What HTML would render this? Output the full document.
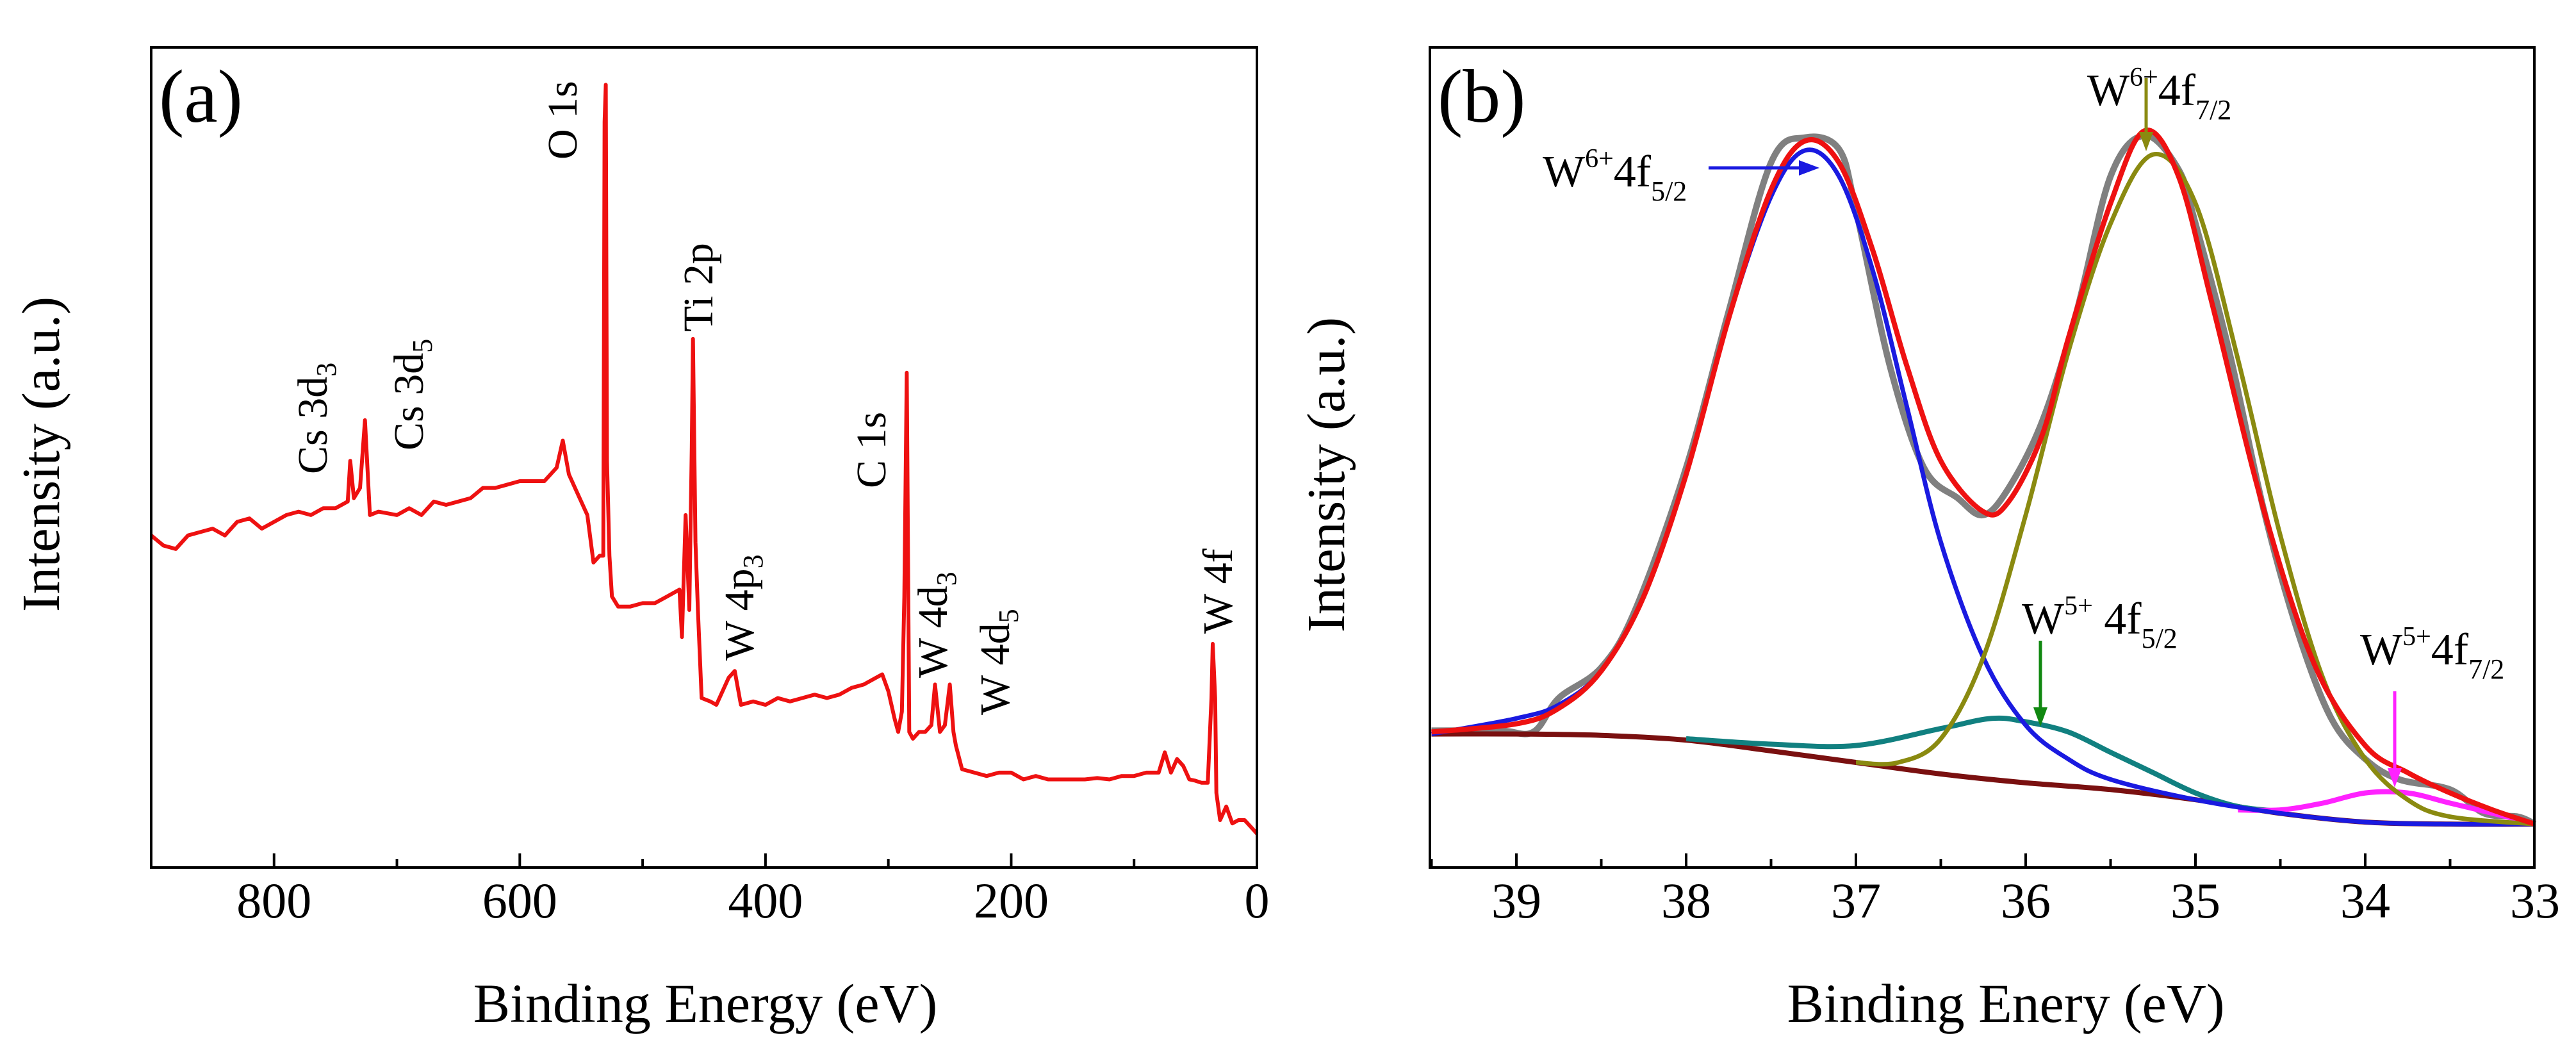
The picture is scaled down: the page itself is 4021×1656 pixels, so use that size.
<!DOCTYPE html>
<html><head><meta charset="utf-8"><style>
html,body{margin:0;padding:0;background:#fff}
svg{display:block;font-family:"Liberation Serif",serif}
</style></head><body>
<svg id="chart" width="4021" height="1656" viewBox="0 0 4021 1656" xmlns="http://www.w3.org/2000/svg">
<rect width="4021" height="1656" fill="#fff"/>
<g id="pa"></g>
<g id="pb"></g>
</svg>
<script>
// ---------- Panel (a) survey data: [binding energy eV, intensity]
const surveyE=[900,890,880,870,860,850,840,830,820,810,800,790,780,770,760,750,745,740,738,735,730,726,722,715,700,690,680,670,660,650,640,630,620,610,600,590,580,570,565,560,550,545,540,535,532,531,530,529,527,525,520,510,500,490,480,470,468,465,462,460,459,457,455,452,445,440,435,430,425,420,410,400,390,380,370,360,350,340,330,320,310,305,300,295,292,289,287,285,283,280,275,270,265,262,258,254,250,247,245,240,230,220,210,200,190,180,170,160,150,140,130,120,110,100,90,80,75,70,65,60,55,50,45,40,37,36,34,33,30,25,20,15,10,5,0];
const surveyI=[490,475,470,490,495,500,490,510,515,500,510,520,525,520,530,530,535,540,600,545,560,660,520,525,520,530,520,540,535,540,545,560,560,565,570,570,570,590,630,580,540,520,450,460,460,1100,1155,600,460,400,385,385,390,390,400,410,340,520,380,620,780,480,380,250,245,240,260,280,290,240,245,240,250,245,250,255,250,255,265,270,280,285,260,220,200,230,400,730,200,190,200,200,210,270,200,210,270,200,180,145,140,135,140,140,130,135,130,130,130,130,132,130,135,135,140,140,170,140,160,150,130,128,125,125,250,330,250,110,70,90,65,70,70,60,50];
// ---------- Panel (b) W 4f data: energies and curves
const bgE=[39.5,39,38.5,38,37.5,37,36.5,36,35.5,35,34.5,34,33.5,33];
const bgI=[197,197,195,188,172,155,138,125,115,100,80,67,64,64];
const blueE=[39.5,39,38.75,38.5,38.25,38,37.75,37.5,37.3,37.1,36.9,36.7,36.5,36.25,36,35.75,35.5,35,34.5,34,33.5,33];
const blueI=[197,220,240,290,400,580,810,990,1058,1020,880,680,480,310,210,160,130,100,80,67,64,64];
const oliveE=[37,36.75,36.5,36.25,36,35.75,35.5,35.25,35,34.75,34.5,34.25,34,33.75,33.5,33];
const oliveI=[155,155,190,310,520,760,950,1052,980,750,490,280,160,100,75,64];
const tealE=[38,37.5,37,36.5,36.2,36,35.75,35.5,35.25,35,34.75,34.5];
const tealI=[190,182,180,205,220,215,200,170,140,110,90,83];
const magE=[34.75,34.5,34.25,34,33.75,33.5,33.25,33];
const magI=[85,85,95,110,110,95,80,64];
const fitE=[39.5,39,38.75,38.5,38.25,38,37.75,37.5,37.3,37.1,36.9,36.7,36.5,36.25,36.1,35.9,35.75,35.5,35.3,35.1,34.9,34.6,34.3,34,33.75,33.5,33.25,33];
const fitI=[200,212,235,290,400,580,810,1000,1072,1040,910,740,600,525,540,640,780,980,1087,1020,830,530,300,180,140,110,85,64];
const rawE=[39.5,39.1,38.9,38.75,38.5,38.3,38,37.75,37.5,37.3,37.1,37,36.8,36.6,36.4,36.25,36.1,35.9,35.7,35.5,35.3,35.1,35,34.8,34.6,34.4,34.2,34,33.8,33.5,33.3,33.1,33];
const rawI=[202,202,200,250,295,380,590,820,1040,1077,1060,970,740,590,545,520,560,660,820,1020,1080,1030,950,760,530,350,220,160,130,115,80,75,64];
const ticksA=[800,600,400,200,0];
const ticksB=[39,38,37,36,35,34,33];

const NS="http://www.w3.org/2000/svg";
function mk(parent,tag,attrs){const e=document.createElementNS(NS,tag);for(const k in attrs)e.setAttribute(k,attrs[k]);parent.appendChild(e);return e;}
const yTop=74,yBot=1354,iScale=(yBot-yTop)/1210;
const yMap=v=>yBot-v*iScale;
const xA=e=>236+(900-e)/900*(1962-236);
const xB=e=>2367+(39-e)*265;

function linePath(E,I,xf){return E.map((e,i)=>(i?'L':'M')+xf(e).toFixed(1)+','+yMap(I[i]).toFixed(1)).join('');}
function smoothPath(E,I,xf){
 const p=E.map((e,i)=>[xf(e),yMap(I[i])]);let d='M'+p[0][0]+','+p[0][1];
 for(let i=0;i<p.length-1;i++){const p0=p[Math.max(0,i-1)],p1=p[i],p2=p[i+1],p3=p[Math.min(p.length-1,i+2)];
  const c1=[p1[0]+(p2[0]-p0[0])/6,p1[1]+(p2[1]-p0[1])/6],c2=[p2[0]-(p3[0]-p1[0])/6,p2[1]-(p3[1]-p1[1])/6];
  d+='C'+c1[0].toFixed(1)+','+c1[1].toFixed(1)+' '+c2[0].toFixed(1)+','+c2[1].toFixed(1)+' '+p2[0].toFixed(1)+','+p2[1].toFixed(1);}
 return d;}

// ----- Panel a
const pa=document.getElementById('pa');
let ln=mk(pa,'path',{d:linePath(surveyE,surveyI,xA),fill:'none',stroke:'#ee1111','stroke-width':6,'stroke-linejoin':'round'});


let fr=mk(pa,'rect',{x:236,y:yTop,width:1726,height:yBot-yTop,fill:'none',stroke:'#000','stroke-width':4});


for(let e=900;e>=0;e-=100){const major=ticksA.includes(e);const x=xA(e);
 mk(pa,'line',{x1:x,x2:x,y1:yBot,y2:yBot-(major?22:13),stroke:'#000','stroke-width':4});}
ticksA.forEach(t=>{const tx=mk(pa,'text',{x:xA(t),y:1432,'font-size':78,'text-anchor':'middle'});tx.textContent=t;
 
 });

// ----- Panel b
const pb=document.getElementById('pb');
const curves=[[rawE,rawI,'#808080',10,'raw-data'],[bgE,bgI,'#7a1010',8,'background-line'],[tealE,tealI,'#118080',8,'w5-4f52-peak'],[magE,magI,'#ff22ff',8,'w5-4f72-peak'],[blueE,blueI,'#1a1ae0',7,'w6-4f52-peak'],[oliveE,oliveI,'#8a8a10',7,'w6-4f72-peak'],[fitE,fitI,'#ee1111',8,'fit-envelope']];
curves.forEach(c=>{const p=mk(pb,'path',{d:smoothPath(c[0],c[1],xB),fill:'none',stroke:c[2],'stroke-width':c[3],'stroke-linejoin':'round'});
 
 });
let fb=mk(pb,'rect',{x:2232,y:yTop,width:1724,height:yBot-yTop,fill:'none',stroke:'#000','stroke-width':4});


for(let k=0;k<=12;k++){const e=39.5-k*0.5;const major=Math.abs(e-Math.round(e))<1e-6;const x=xB(e);
 mk(pb,'line',{x1:x,x2:x,y1:yBot,y2:yBot-(major?22:13),stroke:'#000','stroke-width':4});}
ticksB.forEach(t=>{const tx=mk(pb,'text',{x:xB(t),y:1432,'font-size':78,'text-anchor':'middle'});tx.textContent=t;
 
 });
</script>
<script>
const s=document.getElementById('chart');
s.insertAdjacentHTML('beforeend',`
<g font-family="Liberation Serif, serif" fill="#000">
<text x="248" y="190" font-size="118">(a)</text>
<text x="2244" y="190" font-size="118">(b)</text>
<text transform="translate(92,709) rotate(-90)" font-size="84" text-anchor="middle">Intensity (a.u.)</text>
<text transform="translate(2098,741) rotate(-90)" font-size="84" text-anchor="middle">Intensity (a.u.)</text>
<text x="1101" y="1595" font-size="86" text-anchor="middle">Binding Energy (eV)</text>
<text x="3131" y="1595" font-size="86" text-anchor="middle">Binding Enery (eV)</text>
<g font-size="66">
<text transform="translate(900,249) rotate(-90)">O 1s</text>
<text transform="translate(1112,518) rotate(-90)">Ti 2p</text>
<text transform="translate(510,740) rotate(-90)">Cs 3d<tspan font-size="44" dy="14">3</tspan></text>
<text transform="translate(660,703) rotate(-90)">Cs 3d<tspan font-size="44" dy="14">5</tspan></text>
<text transform="translate(1382,762) rotate(-90)">C 1s</text>
<text transform="translate(1176,1031) rotate(-90)">W 4p<tspan font-size="44" dy="14">3</tspan></text>
<text transform="translate(1478,1058) rotate(-90)">W 4d<tspan font-size="44" dy="14">3</tspan></text>
<text transform="translate(1575,1116) rotate(-90)">W 4d<tspan font-size="44" dy="14">5</tspan></text>
<text transform="translate(1923,989) rotate(-90)">W 4f</text>
</g>
<g font-size="70">
<text x="2408" y="291">W<tspan font-size="42" dy="-30">6+</tspan><tspan dy="30">4f</tspan><tspan font-size="44" dy="22">5/2</tspan></text>
<text x="3258" y="164">W<tspan font-size="42" dy="-30">6+</tspan><tspan dy="30">4f</tspan><tspan font-size="44" dy="22">7/2</tspan></text>
<text x="3156" y="989">W<tspan font-size="42" dy="-30">5+</tspan><tspan dy="30"> 4f</tspan><tspan font-size="44" dy="22">5/2</tspan></text>
<text x="3684" y="1037">W<tspan font-size="42" dy="-30">5+</tspan><tspan dy="30">4f</tspan><tspan font-size="44" dy="22">7/2</tspan></text>
</g>
</g>
<g><line x1="2667" y1="262" x2="2815" y2="262" stroke="#1a1ae0" stroke-width="5"/><polygon points="2840,262 2808,250 2808,274" fill="#1a1ae0"/></g>
<g><line x1="3350" y1="122" x2="3350" y2="212" stroke="#8a8a10" stroke-width="5"/><polygon points="3350,236 3339,206 3361,206" fill="#8a8a10"/></g>
<g><line x1="3185" y1="1000" x2="3185" y2="1110" stroke="#118811" stroke-width="5"/><polygon points="3185,1134 3174,1104 3196,1104" fill="#118811"/></g>
<g><line x1="3738" y1="1079" x2="3738" y2="1205" stroke="#ff22ff" stroke-width="5"/><polygon points="3738,1229 3727,1199 3749,1199" fill="#ff22ff"/></g>
`);
</script>
</body></html>
